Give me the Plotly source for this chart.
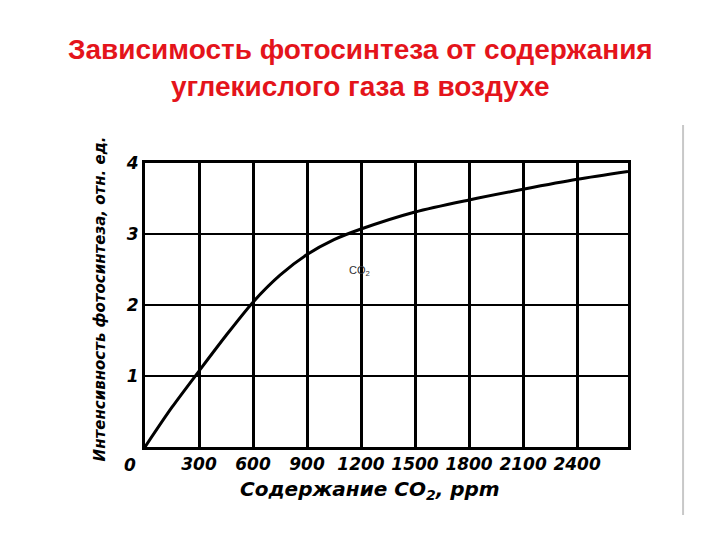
import plotly.graph_objects as go

# Data
co2_ppm = [0, 150, 300, 450, 600, 750, 900, 1050, 1200, 1500, 1800, 2100, 2400, 2683]
intensity = [0, 0.56, 1.07, 1.57, 2.04, 2.42, 2.71, 2.92, 3.07, 3.31, 3.48, 3.63, 3.77, 3.88]
x_ticks = [300, 600, 900, 1200, 1500, 1800, 2100, 2400]
y_ticks = [1, 2, 3, 4]

title_lines = ["Зависимость фотосинтеза от содержания", "углекислого газа в воздухе"]
x_title = "Содержание CO<sub>2</sub>, ppm"
y_title = "Интенсивность фотосинтеза, отн. ед."

LBL_FONT = "DejaVu Sans, sans-serif"

fig = go.Figure()
fig.add_trace(go.Scatter(
    x=co2_ppm, y=intensity, mode="lines",
    line=dict(color="black", width=3, shape="spline", smoothing=0.8),
    showlegend=False, hoverinfo="skip",
))

tickfont = dict(family=LBL_FONT, size=17, color="black", weight="bold", style="italic")

fig.update_layout(
    width=720, height=540,
    margin=dict(l=137, r=100, t=155, b=101),
    paper_bgcolor="white", plot_bgcolor="white",
    xaxis=dict(
        range=[0, 2683], tickvals=x_ticks, ticktext=[str(v) for v in x_ticks],
        showgrid=True, gridcolor="black", gridwidth=3,
        showline=True, linecolor="black", linewidth=3, mirror=True,
        zeroline=False, ticks="", tickfont=tickfont,
    ),
    yaxis=dict(
        range=[0, 4], tickvals=y_ticks, ticktext=[str(v) for v in y_ticks],
        showgrid=True, gridcolor="black", gridwidth=2,
        showline=True, linecolor="black", linewidth=3, mirror=True,
        zeroline=False, ticks="", tickfont=tickfont,
    ),
)

annotations = [
    dict(text=title_lines[0], xref="paper", yref="paper", x=0.447, y=1.398,
         xanchor="center", yanchor="middle", showarrow=False,
         font=dict(family="Liberation Sans, Arial, sans-serif", size=28, color="#E4141B", weight="bold")),
    dict(text=title_lines[1], xref="paper", yref="paper", x=0.445, y=1.271,
         xanchor="center", yanchor="middle", showarrow=False,
         font=dict(family="Liberation Sans, Arial, sans-serif", size=28, color="#E4141B", weight="bold")),
    dict(text=x_title, xref="paper", yref="paper", x=0.466, y=-0.151,
         xanchor="center", yanchor="middle", showarrow=False,
         font=dict(family=LBL_FONT, size=20, color="black", weight="bold", style="italic")),
    dict(text=y_title, xref="paper", yref="paper", x=-0.093, y=0.52,
         xanchor="center", yanchor="middle", showarrow=False, textangle=-90,
         font=dict(family=LBL_FONT, size=15, color="black", weight="bold", style="italic")),
    dict(text="0", xref="x", yref="y", x=0, y=0, xshift=-15, yshift=-18,
         xanchor="center", yanchor="middle", showarrow=False, font=tickfont),
    dict(text="CO<sub>2</sub>", xref="x", yref="y", x=1194, y=2.48,
         xanchor="center", yanchor="middle", showarrow=False,
         font=dict(family="Liberation Sans, Arial, sans-serif", size=11, color="#333333")),
]
fig.update_layout(annotations=annotations)

fig.add_shape(type="line", xref="paper", yref="paper",
              x0=1.114, x1=1.114, y0=-0.239, y1=1.134,
              line=dict(color="#c8c8c8", width=2))

fig.write_html("out.html")
